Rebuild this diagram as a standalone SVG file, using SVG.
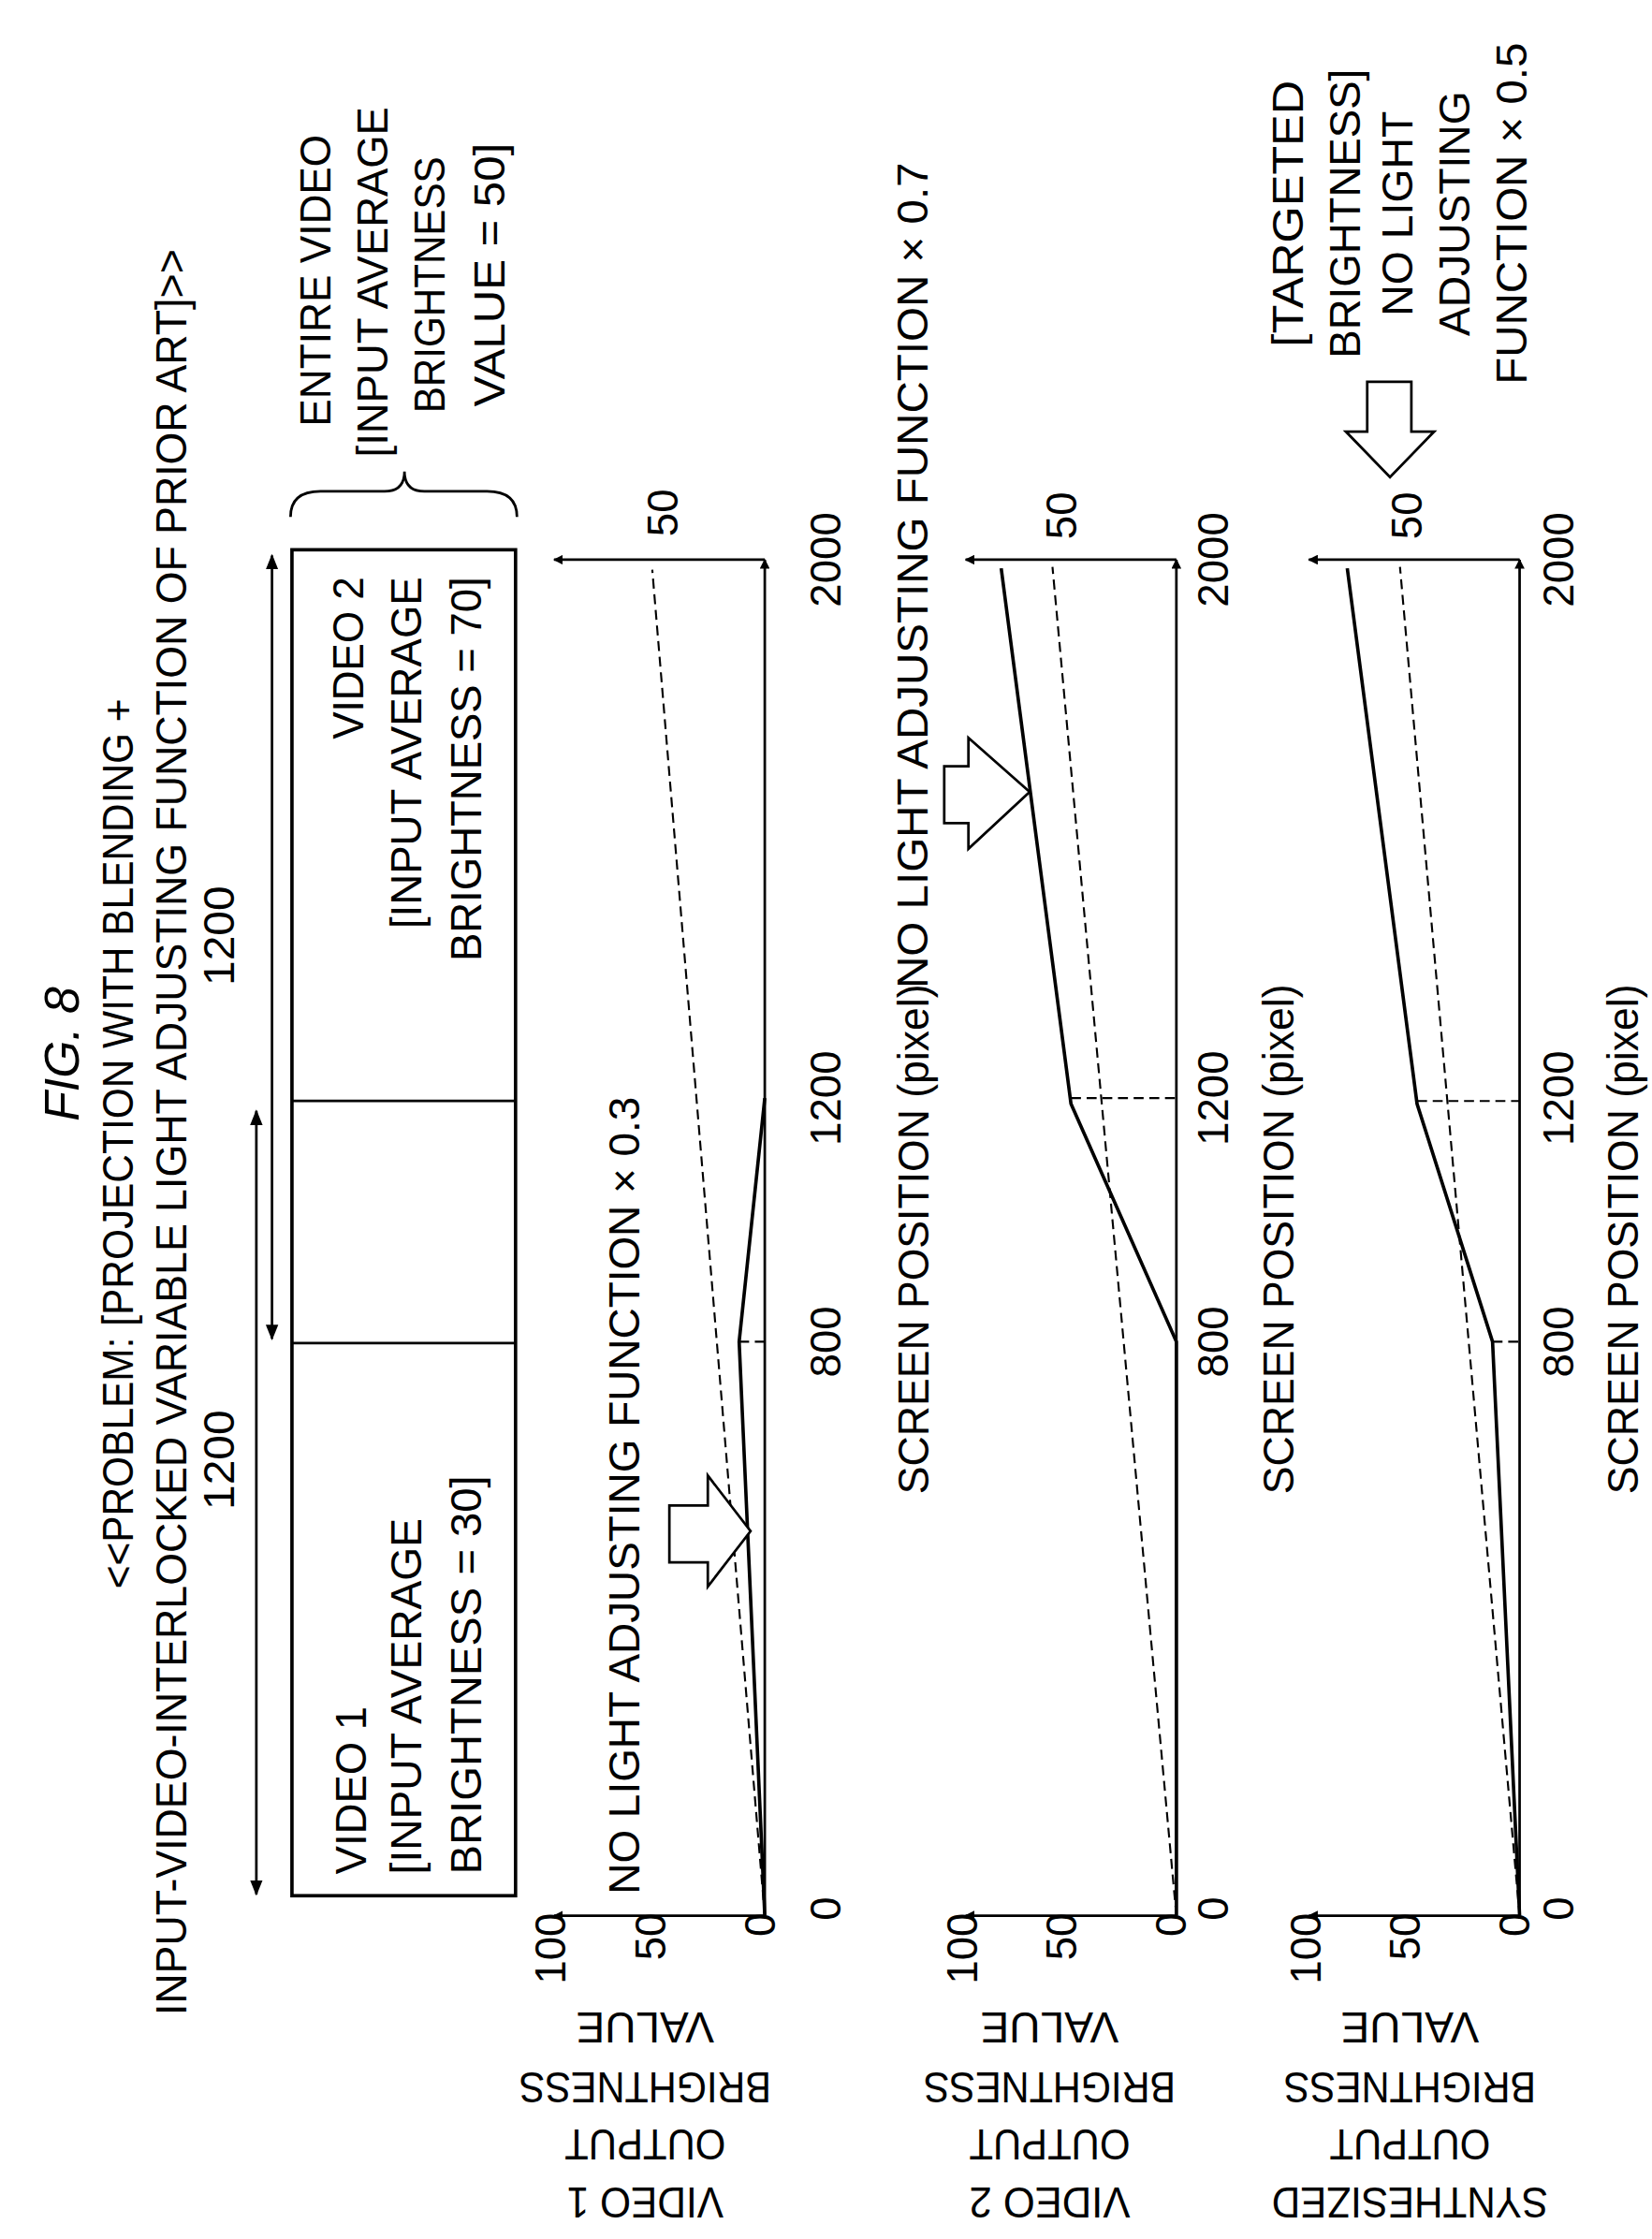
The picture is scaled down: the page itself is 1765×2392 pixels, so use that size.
<svg xmlns="http://www.w3.org/2000/svg" width="1765" height="2392" viewBox="0 0 1765 2392">
<style>
text{font-family:"Liberation Sans",Arial,sans-serif;font-size:30px;fill:#000}
.ln{stroke:#000;stroke-width:1.8;fill:none}
.th{stroke:#000;stroke-width:2.4;fill:none}
.ds{stroke:#000;stroke-width:1.4;fill:none;stroke-dasharray:7 4}
.ha{fill:#fff;stroke:#000;stroke-width:1.8}
</style>
<defs>
<marker id="ah" viewBox="0 0 10 10" refX="9" refY="5" markerWidth="7" markerHeight="7" orient="auto-start-reverse" markerUnits="userSpaceOnUse"><path d="M0,0 L10,5 L0,10 z" fill="#000"/></marker>
<marker id="ah2" viewBox="0 0 10 10" refX="9" refY="5" markerWidth="11" markerHeight="11" orient="auto-start-reverse" markerUnits="userSpaceOnUse"><path d="M0,1 L10,5 L0,9 z" fill="#000"/></marker>
</defs>
<rect width="1765" height="2392" fill="#fff"/>
<g transform="scale(1.5216)">
<g id="title">
<text transform="translate(55 740) rotate(-90)" text-anchor="middle" font-style="italic" style="font-size:34px">FIG. 8</text>
<text transform="translate(93 803) rotate(-90)" text-anchor="middle" textLength="625" lengthAdjust="spacingAndGlyphs">&lt;&lt;PROBLEM: [PROJECTION WITH BLENDING +</text>
<text transform="translate(131 795) rotate(-90)" text-anchor="middle" textLength="1240" lengthAdjust="spacingAndGlyphs">INPUT-VIDEO-INTERLOCKED VARIABLE LIGHT ADJUSTING FUNCTION OF PRIOR ART]&gt;&gt;</text>
</g>
<g id="spans">
<text transform="translate(164 1025) rotate(-90)" text-anchor="middle" textLength="70" lengthAdjust="spacingAndGlyphs">1200</text>
<text transform="translate(164 657) rotate(-90)" text-anchor="middle" textLength="70" lengthAdjust="spacingAndGlyphs">1200</text>
</g>
<g id="connectors">
<line class="ln" x1="180" y1="1330" x2="180" y2="780" marker-start="url(#ah2)" marker-end="url(#ah2)"/>
<line class="ln" x1="191" y1="940" x2="191" y2="390" marker-start="url(#ah2)" marker-end="url(#ah2)"/>
</g>
<g id="screen">
<rect x="205" y="386" width="157" height="945" class="th"/>
<line class="ln" x1="205" y1="943" x2="362" y2="943"/>
<line class="ln" x1="205" y1="773" x2="362" y2="773"/>
<text transform="translate(257 1316) rotate(-90)" textLength="118" lengthAdjust="spacingAndGlyphs">VIDEO 1</text>
<text transform="translate(296 1316) rotate(-90)" textLength="250" lengthAdjust="spacingAndGlyphs">[INPUT AVERAGE</text>
<text transform="translate(338 1316) rotate(-90)" textLength="280" lengthAdjust="spacingAndGlyphs">BRIGHTNESS = 30]</text>
<text transform="translate(255 405) rotate(-90)" text-anchor="end" textLength="114" lengthAdjust="spacingAndGlyphs">VIDEO 2</text>
<text transform="translate(296 405) rotate(-90)" text-anchor="end" textLength="247" lengthAdjust="spacingAndGlyphs">[INPUT AVERAGE</text>
<text transform="translate(338 405) rotate(-90)" text-anchor="end" textLength="270" lengthAdjust="spacingAndGlyphs">BRIGHTNESS = 70]</text>
</g>
<g id="entire">
<path class="ln" d="M204,363 Q204,345 225,345 L270,345 Q284,345 284,331 Q284,345 298,345 L342,345 Q363,345 363,363"/>
<text transform="translate(232 197) rotate(-90)" text-anchor="middle" textLength="205" lengthAdjust="spacingAndGlyphs">ENTIRE VIDEO</text>
<text transform="translate(272 198) rotate(-90)" text-anchor="middle" textLength="246" lengthAdjust="spacingAndGlyphs">[INPUT AVERAGE</text>
<text transform="translate(312 200) rotate(-90)" text-anchor="middle" textLength="180" lengthAdjust="spacingAndGlyphs">BRIGHTNESS</text>
<text transform="translate(354 193) rotate(-90)" text-anchor="middle" textLength="185" lengthAdjust="spacingAndGlyphs">VALUE = 50]</text>
</g>
<g id="graph1">
<line class="ln" x1="537" y1="1345" x2="389" y2="1345" marker-end="url(#ah)"/>
<line class="ln" x1="537" y1="1345" x2="537" y2="393" marker-end="url(#ah)"/>
<line class="ln" x1="537" y1="393" x2="389" y2="393" marker-end="url(#ah)"/>
<line class="ds" x1="537" y1="1345" x2="458" y2="400"/>
<polyline class="th" points="537,1345 519,942 537,771"/>
<line class="ds" x1="519" y1="942" x2="537" y2="942"/>
<polygon class="ha" points="470,1057 497,1057 497,1036 527,1075 497,1114 497,1097 470,1097"/>
<text transform="translate(449 1330) rotate(-90)" textLength="560" lengthAdjust="spacingAndGlyphs">NO LIGHT ADJUSTING FUNCTION × 0.3</text>
<text transform="translate(397 1343) rotate(-90)" text-anchor="end">100</text>
<text transform="translate(467 1343) rotate(-90)" text-anchor="end">50</text>
<text transform="translate(544 1343) rotate(-90)" text-anchor="end">0</text>
<text transform="translate(476 360) rotate(-90)" text-anchor="middle">50</text>
<text transform="translate(590 1340) rotate(-90)" text-anchor="middle">0</text>
<text transform="translate(590 942) rotate(-90)" text-anchor="middle">800</text>
<text transform="translate(590 771) rotate(-90)" text-anchor="middle">1200</text>
<text transform="translate(590 393) rotate(-90)" text-anchor="middle">2000</text>
<text transform="translate(652 870) rotate(-90)" text-anchor="middle" textLength="358" lengthAdjust="spacingAndGlyphs">SCREEN POSITION (pixel)</text>
<g transform="rotate(180 453 1488)" text-anchor="middle">
<text x="453" y="1563" textLength="97" lengthAdjust="spacingAndGlyphs">VALUE</text>
<text x="453" y="1521" textLength="177" lengthAdjust="spacingAndGlyphs">BRIGHTNESS</text>
<text x="453" y="1481" textLength="113" lengthAdjust="spacingAndGlyphs">OUTPUT</text>
<text x="453" y="1440" textLength="110" lengthAdjust="spacingAndGlyphs">VIDEO 1</text>
</g>
</g>
<g id="graph2">
<line class="ln" x1="826" y1="1345" x2="678" y2="1345" marker-end="url(#ah)"/>
<line class="ln" x1="826" y1="1345" x2="826" y2="393" marker-end="url(#ah)"/>
<line class="ln" x1="826" y1="393" x2="678" y2="393" marker-end="url(#ah)"/>
<line class="ds" x1="826" y1="1345" x2="739" y2="398"/>
<polyline class="th" points="826,1345 826,942 752,775 703,399"/>
<line class="ds" x1="752" y1="771" x2="826" y2="771"/>
<polygon class="ha" points="663,538 680,538 680,518 723,556 680,596 680,578 663,578"/>
<text transform="translate(651 694) rotate(-90)" textLength="580" lengthAdjust="spacingAndGlyphs">NO LIGHT ADJUSTING FUNCTION × 0.7</text>
<text transform="translate(686 1343) rotate(-90)" text-anchor="end">100</text>
<text transform="translate(756 1343) rotate(-90)" text-anchor="end">50</text>
<text transform="translate(833 1343) rotate(-90)" text-anchor="end">0</text>
<text transform="translate(756 362) rotate(-90)" text-anchor="middle">50</text>
<text transform="translate(862 1340) rotate(-90)" text-anchor="middle">0</text>
<text transform="translate(862 942) rotate(-90)" text-anchor="middle">800</text>
<text transform="translate(862 771) rotate(-90)" text-anchor="middle">1200</text>
<text transform="translate(862 393) rotate(-90)" text-anchor="middle">2000</text>
<text transform="translate(908 870) rotate(-90)" text-anchor="middle" textLength="358" lengthAdjust="spacingAndGlyphs">SCREEN POSITION (pixel)</text>
<g transform="rotate(180 737 1488)" text-anchor="middle">
<text x="737" y="1563" textLength="97" lengthAdjust="spacingAndGlyphs">VALUE</text>
<text x="737" y="1521" textLength="177" lengthAdjust="spacingAndGlyphs">BRIGHTNESS</text>
<text x="737" y="1481" textLength="113" lengthAdjust="spacingAndGlyphs">OUTPUT</text>
<text x="737" y="1440" textLength="113" lengthAdjust="spacingAndGlyphs">VIDEO 2</text>
</g>
</g>
<g id="graph3">
<line class="ln" x1="1067" y1="1345" x2="919" y2="1345" marker-end="url(#ah)"/>
<line class="ln" x1="1067" y1="1345" x2="1067" y2="393" marker-end="url(#ah)"/>
<line class="ln" x1="1067" y1="393" x2="919" y2="393" marker-end="url(#ah)"/>
<line class="ds" x1="1067" y1="1345" x2="983" y2="398"/>
<polyline class="th" points="1067,1345 1048,942 995,775 946,399"/>
<line class="ds" x1="995" y1="773" x2="1067" y2="773"/>
<line class="ds" x1="1048" y1="942" x2="1067" y2="942"/>
<polygon class="ha" points="960,268 991,268 991,303 1007,303 976,335 945,303 960,303"/>
<text transform="translate(915 150) rotate(-90)" text-anchor="middle" textLength="187" lengthAdjust="spacingAndGlyphs">[TARGETED</text>
<text transform="translate(955 150) rotate(-90)" text-anchor="middle" textLength="203" lengthAdjust="spacingAndGlyphs">BRIGHTNESS]</text>
<text transform="translate(992 150) rotate(-90)" text-anchor="middle" textLength="144" lengthAdjust="spacingAndGlyphs">NO LIGHT</text>
<text transform="translate(1032 150) rotate(-90)" text-anchor="middle" textLength="172" lengthAdjust="spacingAndGlyphs">ADJUSTING</text>
<text transform="translate(1072 150) rotate(-90)" text-anchor="middle" textLength="240" lengthAdjust="spacingAndGlyphs">FUNCTION × 0.5</text>
<text transform="translate(927 1343) rotate(-90)" text-anchor="end">100</text>
<text transform="translate(997 1343) rotate(-90)" text-anchor="end">50</text>
<text transform="translate(1074 1343) rotate(-90)" text-anchor="end">0</text>
<text transform="translate(998 362) rotate(-90)" text-anchor="middle">50</text>
<text transform="translate(1105 1340) rotate(-90)" text-anchor="middle">0</text>
<text transform="translate(1105 942) rotate(-90)" text-anchor="middle">800</text>
<text transform="translate(1105 771) rotate(-90)" text-anchor="middle">1200</text>
<text transform="translate(1105 393) rotate(-90)" text-anchor="middle">2000</text>
<text transform="translate(1150 870) rotate(-90)" text-anchor="middle" textLength="358" lengthAdjust="spacingAndGlyphs">SCREEN POSITION (pixel)</text>
<g transform="rotate(180 990 1488)" text-anchor="middle">
<text x="990" y="1563" textLength="97" lengthAdjust="spacingAndGlyphs">VALUE</text>
<text x="990" y="1521" textLength="177" lengthAdjust="spacingAndGlyphs">BRIGHTNESS</text>
<text x="990" y="1481" textLength="113" lengthAdjust="spacingAndGlyphs">OUTPUT</text>
<text x="990" y="1440" textLength="194" lengthAdjust="spacingAndGlyphs">SYNTHESIZED</text>
</g>
</g>
</g>
</svg>
